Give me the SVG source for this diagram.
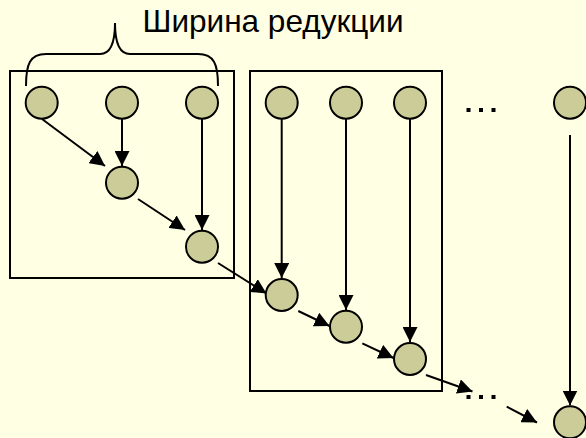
<svg xmlns="http://www.w3.org/2000/svg" width="586" height="438" viewBox="0 0 586 438">
<defs>
<marker id="ah" markerWidth="15" markerHeight="15" viewBox="0 0 15 15" refX="15" refY="7.5" orient="auto" markerUnits="userSpaceOnUse">
<path d="M0,0 L15,7.5 L0,15 Z" fill="#000"/>
</marker>
</defs>
<style>
.bg{fill:#FFFFE3}
.box{fill:none;stroke:#000;stroke-width:2}
.n{fill:#CCCC99;stroke:#000;stroke-width:2}
.c{stroke:#000;stroke-width:2;fill:none;marker-end:url(#ah)}
.ln{stroke:#000;stroke-width:2;fill:none}
.t{font-family:"Liberation Sans",Arial,sans-serif;font-size:30.5px;fill:#000}
.dot{fill:#000}
</style>
<rect class="bg" x="0" y="0" width="586" height="438"/>
<g id="label">
<text class="t" x="142.5" y="31.5" textLength="261" lengthAdjust="spacingAndGlyphs">Ширина редукции</text>
<path class="ln" d="M26,86 C26,64 30,54 46,54 L100,54 C110,54 115,44 115,23 C115,44 120,54 130,54 L198,54 C214,54 218,64 218,86"/>
</g>
<g id="box1"><rect class="box" x="10" y="71" width="224" height="207"/></g>
<g id="box2"><rect class="box" x="250" y="71" width="192" height="320"/></g>
<g id="connectors">
<line class="c" x1="42" y1="119" x2="105" y2="166"/>
<line class="c" x1="122" y1="119" x2="122" y2="166"/>
<line class="c" x1="202" y1="119" x2="202" y2="230"/>
<line class="c" x1="138" y1="199" x2="185" y2="230"/>
<line class="c" x1="218" y1="263" x2="266.5" y2="293.5"/>
<line class="c" x1="281.7" y1="119" x2="281.7" y2="278"/>
<line class="c" x1="346" y1="119" x2="346" y2="310"/>
<line class="c" x1="410" y1="119" x2="410" y2="342"/>
<line class="c" x1="570" y1="135" x2="570" y2="405.5"/>
<line class="c" x1="298.3" y1="311" x2="329.5" y2="326"/>
<line class="c" x1="362.3" y1="343.3" x2="393.5" y2="358"/>
<line class="c" x1="426" y1="375" x2="472.5" y2="391.5"/>
<line class="c" x1="506.7" y1="406.7" x2="537" y2="422.5"/>
</g>
<g id="dots1">
<rect class="dot" x="466.5" y="108" width="4" height="4"/>
<rect class="dot" x="479" y="108" width="4" height="4"/>
<rect class="dot" x="491.5" y="108" width="4" height="4"/>
</g>
<g id="dots2">
<rect class="dot" x="466.5" y="395" width="4" height="4"/>
<rect class="dot" x="479" y="395" width="4" height="4"/>
<rect class="dot" x="491.5" y="395" width="4" height="4"/>
</g>
<g id="n1"><circle class="n" cx="41.7" cy="102.7" r="16"/></g>
<g id="n2"><circle class="n" cx="122" cy="102.7" r="16"/></g>
<g id="n3"><circle class="n" cx="202" cy="102.7" r="16"/></g>
<g id="n4"><circle class="n" cx="122" cy="182.7" r="16"/></g>
<g id="n5"><circle class="n" cx="202" cy="246.7" r="16"/></g>
<g id="n6"><circle class="n" cx="281.7" cy="102.7" r="16"/></g>
<g id="n7"><circle class="n" cx="346" cy="102.7" r="16"/></g>
<g id="n8"><circle class="n" cx="410" cy="102.7" r="16"/></g>
<g id="n9"><circle class="n" cx="570" cy="102.7" r="16"/></g>
<g id="n10"><circle class="n" cx="281.7" cy="295" r="16"/></g>
<g id="n11"><circle class="n" cx="346" cy="326.7" r="16"/></g>
<g id="n12"><circle class="n" cx="410" cy="359" r="16"/></g>
<g id="n13"><circle class="n" cx="570" cy="422.3" r="16"/></g>
</svg>
